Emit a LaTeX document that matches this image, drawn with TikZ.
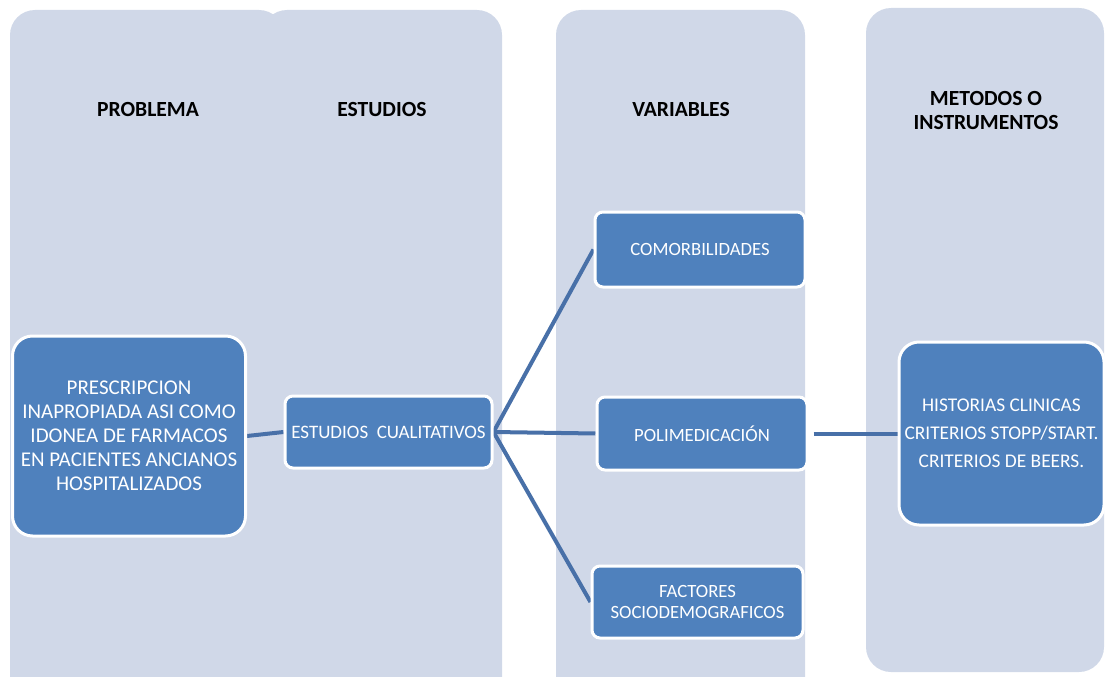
\documentclass[tikz,border=0pt]{standalone}
\usepackage{fontspec}
\setmainfont{Carlito}
\usetikzlibrary{backgrounds}

\definecolor{colbg}{RGB}{208,216,232}
\definecolor{boxblue}{RGB}{79,129,189}
\definecolor{linkblue}{RGB}{72,112,168}

\begin{document}
\begin{tikzpicture}[x=1pt,y=-1pt,
    colfill/.style={fill=colbg, rounded corners=25pt},
    hdr/.style={font=\fontsize{21.6}{24}\selectfont\bfseries, align=center},
    box/.style={draw=white, line width=3pt, fill=boxblue, text=white,
        rounded corners=8pt, align=center, inner sep=0pt,
        font=\fontsize{18.7}{22}\selectfont},
    link/.style={draw=linkblue, line width=4pt}]

\useasboundingbox (0,0) rectangle (1106,677);

% Columns
\begin{scope}[on background layer]
\fill[colfill] (10,10) rectangle (284,710);
\fill[colfill] (262,10) rectangle (502,710);
\fill[colfill] (556,10) rectangle (805,710);
\fill[colfill] (866,8) rectangle (1104,672);
\end{scope}

% Headers
\node[hdr] (hprob) at (148,109) {PROBLEMA};
\node[hdr] (hest) at (382,109) {ESTUDIOS};
\node[hdr] (hvar) at (681,109) {VARIABLES};
\node[hdr] (hmet) at (986,110) {METODOS O\\INSTRUMENTOS};

% Boxes
\node[box, minimum width=233pt, minimum height=200pt, rounded corners=20pt,
    font=\fontsize{21}{24}\selectfont] (prob) at (129,436)
    {PRESCRIPCION\\INAPROPIADA ASI COMO\\IDONEA DE FARMACOS\\EN PACIENTES ANCIANOS\\HOSPITALIZADOS};
\node[box, minimum width=207pt, minimum height=72pt,
    font=\fontsize{19}{22}\selectfont] (estc) at (388.5,432)
    {ESTUDIOS\ \ CUALITATIVOS};
\node[box, minimum width=210pt, minimum height=75pt] (comor) at (700,249.5)
    {COMORBILIDADES};
\node[box, minimum width=210pt, minimum height=73pt] (polim) at (702,433.5)
    {POLIMEDICACIÓN};
\node[box, minimum width=211pt, minimum height=72pt,
    font=\fontsize{18.7}{21}\selectfont] (factr) at (697.5,602)
    {FACTORES\\SOCIODEMOGRAFICOS};
\node[box, minimum width=205pt, minimum height=183pt, rounded corners=20pt,
    font=\fontsize{19.4}{28}\selectfont] (hist) at (1001.5,433.5)
    {HISTORIAS CLINICAS\\CRITERIOS STOPP/START.\\CRITERIOS DE BEERS.};

% Connectors
\begin{scope}[on background layer]
\draw[link] (prob.east) -- (estc.west);
\draw[link] (estc.east) -- (comor.west);
\draw[link] (estc.east) -- (polim.west);
\draw[link] (estc.east) -- (factr.west);
\draw[link, shorten <=5pt] (polim.east) -- (hist.west);
\end{scope}

\end{tikzpicture}
\end{document}
